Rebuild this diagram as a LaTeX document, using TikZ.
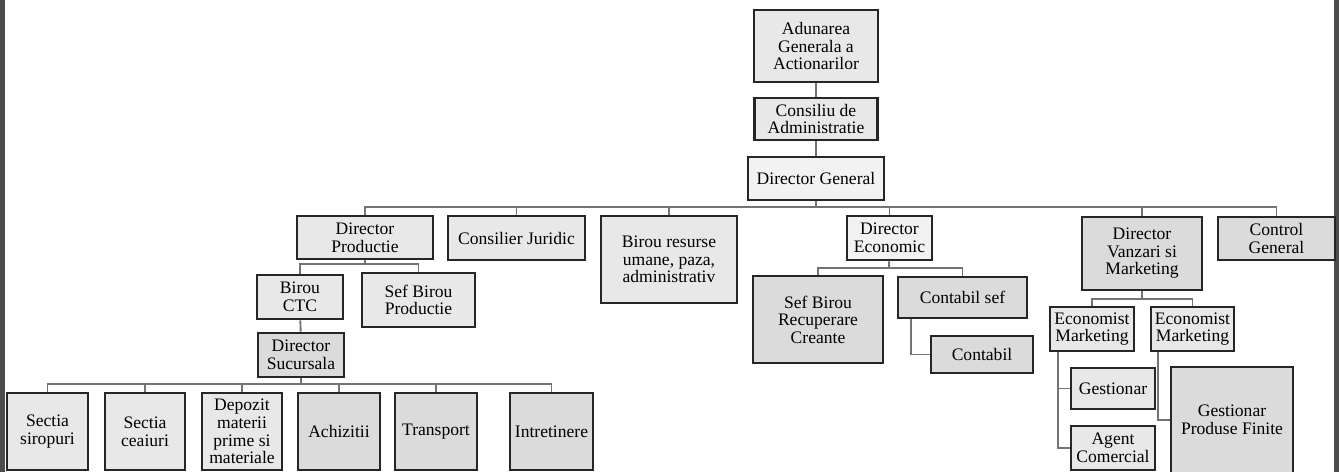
\documentclass[tikz,border=0pt]{standalone}
\usepackage{fontspec}
\setmainfont{Liberation Serif}
\usetikzlibrary{calc}

\tikzset{
  box/.style={draw=black!85, line width=1.6pt, fill=gray!18, align=center,
    inner sep=0.5pt, font=\fontsize{10}{10}\selectfont},
  darkbox/.style={box, fill=gray!28},
  link/.style={draw=black!55, line width=1.1pt},
}

\begin{document}
\begin{tikzpicture}[x=0.02cm,y=-0.02cm]
  \useasboundingbox (0,0) rectangle (1339,472);
  % margini scanate
  \fill[black!70] (0,0) rectangle (5,472);
  \fill[black!70] (1334,0) rectangle (1339,472);

  % conducere
  \node[box, minimum width=2.48cm, minimum height=1.44cm] (ag) at (816,46) {Adunarea\\Generala a\\Actionarilor};
  \node[box, minimum width=2.46cm, minimum height=0.84cm] (ca) at (816,119) {Consiliu de\\Administratie};
  \node[box, minimum width=2.72cm, minimum height=0.86cm, fill=gray!10] (dg) at (816,178.5) {Director General};

  % nivel 2
  \node[box, minimum width=2.72cm, minimum height=0.86cm] (dp) at (365,237.5) {Director\\Productie};
  \node[box, minimum width=2.74cm, minimum height=0.88cm] (cj) at (516.5,238) {Consilier Juridic};
  \node[box, minimum width=2.72cm, minimum height=1.74cm] (brum) at (669,259.5) {Birou resurse\\umane, paza,\\administrativ};
  \node[box, minimum width=1.70cm, minimum height=0.88cm, fill=gray!10] (de) at (889.5,238) {Director\\Economic};
  \node[darkbox, minimum width=2.40cm, minimum height=1.46cm] (dvm) at (1142,253.5) {Director\\Vanzari si\\Marketing};
  \node[darkbox, minimum width=2.34cm, minimum height=0.86cm] (cg) at (1276.5,238.5) {Control\\General};

  % productie
  \node[box, minimum width=1.72cm, minimum height=0.88cm] (ctc) at (300,297) {Birou\\CTC};
  \node[box, minimum width=2.26cm, minimum height=1.08cm] (sbp) at (418.5,300) {Sef Birou\\Productie};
  \node[darkbox, minimum width=1.72cm, minimum height=0.88cm] (dsuc) at (301,355) {Director\\Sucursala};

  \node[box, minimum width=1.62cm, minimum height=1.54cm] (ss) at (47.5,431.5) {Sectia\\siropuri};
  \node[box, minimum width=1.60cm, minimum height=1.54cm] (sc) at (145,431.5) {Sectia\\ceaiuri};
  \node[box, minimum width=1.60cm, minimum height=1.54cm] (dep) at (242,431.5) {Depozit\\materii\\prime si\\materiale};
  \node[darkbox, minimum width=1.64cm, minimum height=1.54cm] (ach) at (339,431.5) {Achizitii};
  \node[darkbox, minimum width=1.64cm, minimum height=1.54cm] (tr) at (436,431.5) {Transport};
  \node[darkbox, minimum width=1.66cm, minimum height=1.54cm] (intr) at (551.5,431.5) {Intretinere};

  % economic
  \node[darkbox, minimum width=2.60cm, minimum height=1.74cm] (sbrc) at (818,319.5) {Sef Birou\\Recuperare\\Creante};
  \node[darkbox, minimum width=2.58cm, minimum height=0.82cm] (cs) at (962.5,297.5) {Contabil sef};
  \node[darkbox, minimum width=2.04cm, minimum height=0.74cm] (cb) at (982,354.5) {Contabil};

  % vanzari
  \node[box, minimum width=1.68cm, minimum height=0.88cm] (em1) at (1092,329) {Economist\\Marketing};
  \node[box, minimum width=1.66cm, minimum height=0.88cm] (em2) at (1192.5,329) {Economist\\Marketing};
  \node[box, minimum width=1.68cm, minimum height=0.82cm] (gest) at (1113,388.5) {Gestionar};
  \node[box, minimum width=1.68cm, minimum height=0.88cm] (agc) at (1113,448) {Agent\\Comercial};
  \node[darkbox, minimum width=2.44cm, minimum height=2.12cm] (gpf) at (1232,420) {Gestionar\\Produse Finite};

  % legaturi
  \coordinate (b0) at (816,207);
  \coordinate (b1) at (365,264);
  \coordinate (b2) at (301,384);
  \coordinate (b3) at (889,268);
  \coordinate (b4) at (1142,299);

  \draw[link] (ag) -- (ca);
  \draw[link] (ca) -- (dg);
  \draw[link] (dg) -- (b0);
  \foreach \n in {dp,cj,brum,de,dvm,cg}
    \draw[link] (b0) -| (\n);

  \draw[link] (dp) -- (b1);
  \draw[link] (b1) -| (ctc);
  \draw[link] (b1) -| (sbp);
  \draw[link] (ctc) -- (dsuc);
  \draw[link] (dsuc) -- (b2);
  \foreach \n in {ss,sc,dep,ach,tr,intr}
    \draw[link] (b2) -| (\n);

  \draw[link] (de) -- (b3);
  \draw[link] (b3) -| (sbrc);
  \draw[link] (b3) -| (cs);
  \draw[link] ([xshift=0.28cm]cs.south west) |- (cb);

  \draw[link] (dvm) -- (b4);
  \draw[link] (b4) -| (em1);
  \draw[link] (b4) -| (em2);
  \draw[link] ([xshift=0.18cm]em1.south west) |- (gest);
  \draw[link] ([xshift=0.18cm]em1.south west) |- (agc);
  \draw[link] ([xshift=0.16cm]em2.south west) |- (gpf);
\end{tikzpicture}
\end{document}
